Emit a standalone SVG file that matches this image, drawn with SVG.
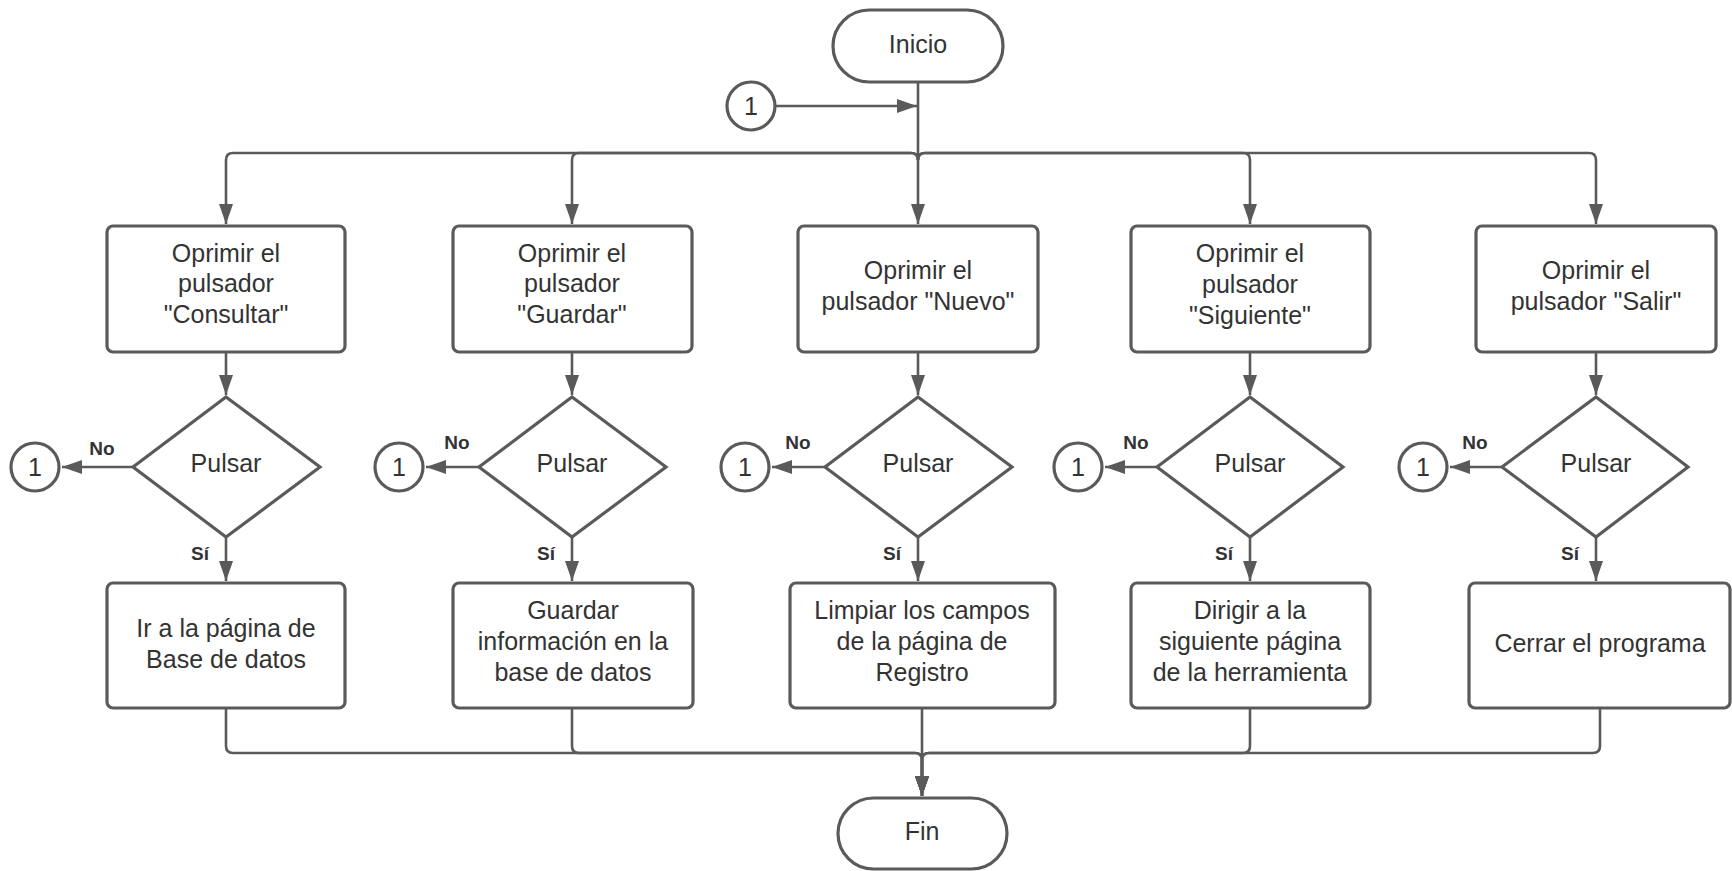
<svg xmlns="http://www.w3.org/2000/svg" width="1732" height="871" viewBox="0 0 1732 871">
  <defs>
    <marker id="arrow" markerUnits="userSpaceOnUse" markerWidth="20" markerHeight="14" refX="20" refY="7" orient="auto">
      <path d="M0,0 L20,7 L0,14 Z" fill="#5a5a5a"/>
    </marker>
    <style>
      .shape { fill: #ffffff; stroke: #5a5a5a; stroke-width: 3.2; }
      .line { fill: none; stroke: #5a5a5a; stroke-width: 2.6; }
      .arr { marker-end: url(#arrow); }
      .t { font-family: "Liberation Sans", Arial, sans-serif; font-size: 25px; fill: #333333; text-anchor: middle; }
      .lbl { font-family: "Liberation Sans", Arial, sans-serif; font-size: 19px; font-weight: bold; fill: #333333; text-anchor: middle; }
    </style>
  </defs>

  <!-- connectors -->
  <g id="connectors">
    <!-- loop-back connector into the trunk -->
    <path class="line arr" d="M775 106 H917"/>
    <!-- trunk from Inicio down to the middle column -->
    <path class="line arr" d="M918 82 V224"/>
    <!-- branches to the top row -->
    <path class="line arr" d="M918 160 Q918 153 911 153 H233 Q226 153 226 160 V224"/>
    <path class="line arr" d="M918 160 Q918 153 911 153 H579 Q572 153 572 160 V224"/>
    <path class="line arr" d="M918 160 Q918 153 925 153 H1243 Q1250 153 1250 160 V224"/>
    <path class="line arr" d="M918 160 Q918 153 925 153 H1589 Q1596 153 1596 160 V224"/>

    <!-- box to decision -->
    <path class="line arr" d="M226 352 V395"/>
    <path class="line arr" d="M572 352 V395"/>
    <path class="line arr" d="M918 352 V395"/>
    <path class="line arr" d="M1250 352 V395"/>
    <path class="line arr" d="M1596 352 V395"/>

    <!-- "No" exits -->
    <path class="line arr" d="M133 467 H62"/>
    <path class="line arr" d="M479 467 H426"/>
    <path class="line arr" d="M825 467 H772"/>
    <path class="line arr" d="M1157 467 H1105"/>
    <path class="line arr" d="M1502 467 H1450"/>

    <!-- "Sí" exits -->
    <path class="line arr" d="M226 537 V581"/>
    <path class="line arr" d="M572 537 V581"/>
    <path class="line arr" d="M918 537 V581"/>
    <path class="line arr" d="M1250 537 V581"/>
    <path class="line arr" d="M1596 537 V581"/>

    <!-- merge into Fin -->
    <path class="line arr" d="M226 708 V746 Q226 753 233 753 H915 Q922 753 922 760 V796"/>
    <path class="line arr" d="M572 708 V746 Q572 753 579 753 H915 Q922 753 922 760 V796"/>
    <path class="line arr" d="M922 708 V796"/>
    <path class="line arr" d="M1250 708 V746 Q1250 753 1243 753 H929 Q922 753 922 760 V796"/>
    <path class="line arr" d="M1600 708 V746 Q1600 753 1593 753 H929 Q922 753 922 760 V796"/>
  </g>

  <!-- terminators -->
  <g id="inicio">
    <rect class="shape" x="833" y="10" width="170" height="72" rx="36"/>
    <text class="t" x="918" y="53">Inicio</text>
  </g>
  <g id="fin">
    <rect class="shape" x="838" y="798" width="169" height="71" rx="35.5"/>
    <text class="t" x="922" y="840">Fin</text>
  </g>

  <!-- off-page reference into the trunk -->
  <g id="ref-top">
    <circle class="shape" cx="751" cy="106" r="24"/>
    <text class="t" x="751" y="115">1</text>
  </g>

  <!-- column 1: Consultar -->
  <g id="btn-consultar">
    <rect class="shape" x="107" y="226" width="238" height="126" rx="6"/>
    <text class="t" x="226" y="262">Oprimir el</text>
    <text class="t" x="226" y="292">pulsador</text>
    <text class="t" x="226" y="323">"Consultar"</text>
  </g>
  <g id="dec-consultar">
    <polygon class="shape" points="226,397 320,467 226,537 133,467"/>
    <text class="t" x="226" y="472">Pulsar</text>
    <text class="lbl" x="102" y="455">No</text>
    <text class="lbl" x="200" y="560">Sí</text>
  </g>
  <g id="ref-consultar">
    <circle class="shape" cx="35" cy="467" r="24"/>
    <text class="t" x="35" y="476">1</text>
  </g>
  <g id="act-consultar">
    <rect class="shape" x="107" y="583" width="238" height="125" rx="6"/>
    <text class="t" x="226" y="637">Ir a la página de</text>
    <text class="t" x="226" y="668">Base de datos</text>
  </g>

  <!-- column 2: Guardar -->
  <g id="btn-guardar">
    <rect class="shape" x="453" y="226" width="239" height="126" rx="6"/>
    <text class="t" x="572" y="262">Oprimir el</text>
    <text class="t" x="572" y="292">pulsador</text>
    <text class="t" x="572" y="323">"Guardar"</text>
  </g>
  <g id="dec-guardar">
    <polygon class="shape" points="572,397 666,467 572,537 479,467"/>
    <text class="t" x="572" y="472">Pulsar</text>
    <text class="lbl" x="457" y="449">No</text>
    <text class="lbl" x="546" y="560">Sí</text>
  </g>
  <g id="ref-guardar">
    <circle class="shape" cx="399" cy="467" r="24"/>
    <text class="t" x="399" y="476">1</text>
  </g>
  <g id="act-guardar">
    <rect class="shape" x="453" y="583" width="240" height="125" rx="6"/>
    <text class="t" x="573" y="619">Guardar</text>
    <text class="t" x="573" y="650">información en la</text>
    <text class="t" x="573" y="681">base de datos</text>
  </g>

  <!-- column 3: Nuevo -->
  <g id="btn-nuevo">
    <rect class="shape" x="798" y="226" width="240" height="126" rx="6"/>
    <text class="t" x="918" y="279">Oprimir el</text>
    <text class="t" x="918" y="310">pulsador "Nuevo"</text>
  </g>
  <g id="dec-nuevo">
    <polygon class="shape" points="918,397 1012,467 918,537 825,467"/>
    <text class="t" x="918" y="472">Pulsar</text>
    <text class="lbl" x="798" y="449">No</text>
    <text class="lbl" x="892" y="560">Sí</text>
  </g>
  <g id="ref-nuevo">
    <circle class="shape" cx="745" cy="467" r="24"/>
    <text class="t" x="745" y="476">1</text>
  </g>
  <g id="act-nuevo">
    <rect class="shape" x="790" y="583" width="265" height="125" rx="6"/>
    <text class="t" x="922" y="619">Limpiar los campos</text>
    <text class="t" x="922" y="650">de la página de</text>
    <text class="t" x="922" y="681">Registro</text>
  </g>

  <!-- column 4: Siguiente -->
  <g id="btn-siguiente">
    <rect class="shape" x="1131" y="226" width="239" height="126" rx="6"/>
    <text class="t" x="1250" y="262">Oprimir el</text>
    <text class="t" x="1250" y="293">pulsador</text>
    <text class="t" x="1250" y="324">"Siguiente"</text>
  </g>
  <g id="dec-siguiente">
    <polygon class="shape" points="1250,397 1343,467 1250,537 1157,467"/>
    <text class="t" x="1250" y="472">Pulsar</text>
    <text class="lbl" x="1136" y="449">No</text>
    <text class="lbl" x="1224" y="560">Sí</text>
  </g>
  <g id="ref-siguiente">
    <circle class="shape" cx="1078" cy="467" r="24"/>
    <text class="t" x="1078" y="476">1</text>
  </g>
  <g id="act-siguiente">
    <rect class="shape" x="1131" y="583" width="239" height="125" rx="6"/>
    <text class="t" x="1250" y="619">Dirigir a la</text>
    <text class="t" x="1250" y="650">siguiente página</text>
    <text class="t" x="1250" y="681">de la herramienta</text>
  </g>

  <!-- column 5: Salir -->
  <g id="btn-salir">
    <rect class="shape" x="1476" y="226" width="240" height="126" rx="6"/>
    <text class="t" x="1596" y="279">Oprimir el</text>
    <text class="t" x="1596" y="310">pulsador "Salir"</text>
  </g>
  <g id="dec-salir">
    <polygon class="shape" points="1596,397 1688,467 1596,537 1502,467"/>
    <text class="t" x="1596" y="472">Pulsar</text>
    <text class="lbl" x="1475" y="449">No</text>
    <text class="lbl" x="1570" y="560">Sí</text>
  </g>
  <g id="ref-salir">
    <circle class="shape" cx="1423" cy="467" r="24"/>
    <text class="t" x="1423" y="476">1</text>
  </g>
  <g id="act-salir">
    <rect class="shape" x="1469" y="583" width="261" height="125" rx="6"/>
    <text class="t" x="1600" y="652">Cerrar el programa</text>
  </g>
</svg>
